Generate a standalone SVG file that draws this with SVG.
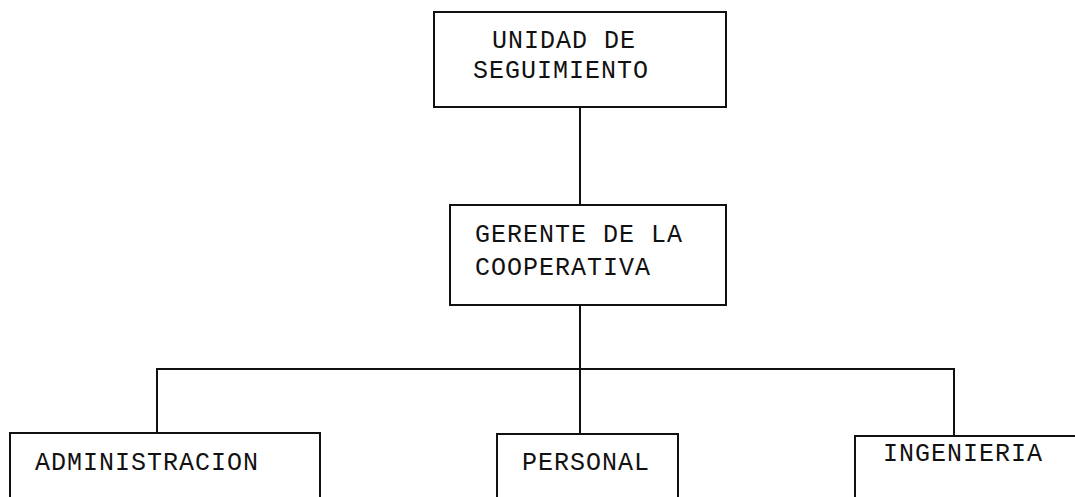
<svg xmlns="http://www.w3.org/2000/svg" width="1075" height="497" viewBox="0 0 1075 497">
<style>
.box{fill:none;stroke:#111;stroke-width:2}
.ln{fill:none;stroke:#111;stroke-width:2}
text{font-family:"Liberation Mono","DejaVu Sans Mono",monospace;font-size:25px;letter-spacing:1px;fill:#111}
</style>
<rect width="1075" height="497" fill="#fff"/>
<g id="connectors">
<line class="ln" x1="580" y1="107" x2="580" y2="205"/>
<line class="ln" x1="580" y1="305" x2="580" y2="434"/>
<polyline class="ln" points="157,433 157,369 954,369 954,436"/>
</g>
<g id="unidad">
<rect class="box" x="434" y="12" width="292" height="95"/>
<text x="492" y="48">UNIDAD DE</text>
<text x="473" y="78">SEGUIMIENTO</text>
</g>
<g id="gerente">
<rect class="box" x="450" y="205" width="276" height="100"/>
<text x="475" y="242">GERENTE DE LA</text>
<text x="475" y="275">COOPERATIVA</text>
</g>
<g id="administracion">
<polyline class="box" points="10,498 10,433 320,433 320,498"/>
<text x="35" y="470">ADMINISTRACION</text>
</g>
<g id="personal">
<polyline class="box" points="497,498 497,434 678,434 678,498"/>
<text x="522" y="470">PERSONAL</text>
</g>
<g id="ingenieria">
<polyline class="box" points="855,498 855,436 1076,436"/>
<text x="883" y="461">INGENIERIA</text>
</g>
</svg>
